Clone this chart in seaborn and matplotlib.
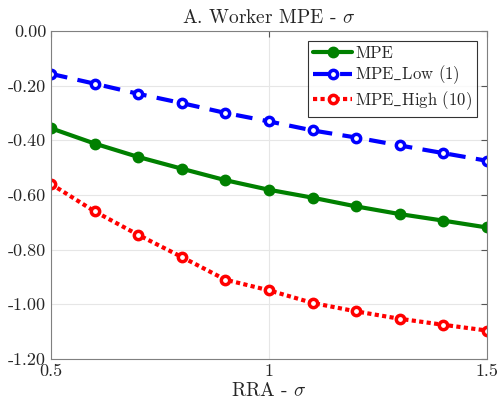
import numpy as np
import pandas as pd
import matplotlib
matplotlib.use("Agg")
import matplotlib.pyplot as plt
import seaborn as sns

rra = [0.5, 0.6, 0.7, 0.8, 0.9, 1.0, 1.1, 1.2, 1.3, 1.4, 1.5]
mpe = [-0.356, -0.412, -0.461, -0.504, -0.546, -0.581, -0.610, -0.642, -0.670, -0.694, -0.719]
mpe_low = [-0.157, -0.193, -0.230, -0.264, -0.300, -0.331, -0.364, -0.390, -0.419, -0.447, -0.475]
mpe_high = [-0.560, -0.660, -0.746, -0.827, -0.910, -0.949, -0.995, -1.026, -1.053, -1.075, -1.096]
labels = ["MPE", r"MPE$\_$Low (1)", r"MPE$\_$High (10)"]
yticks = [0.0, -0.2, -0.4, -0.6, -0.8, -1.0, -1.2]
xticks = [0.5, 1.0, 1.5]
xticklabels = ["0.5", "1", "1.5"]

sns.set_style("white")
plt.rcParams["font.family"] = "serif"
plt.rcParams["font.serif"] = ["cmr10"]
plt.rcParams["mathtext.fontset"] = "cm"
plt.rcParams["axes.unicode_minus"] = False
plt.rcParams["axes.formatter.use_mathtext"] = True

df = pd.DataFrame({
    "x": rra * 3,
    "y": mpe + mpe_low + mpe_high,
    "series": [labels[0]] * len(rra) + [labels[1]] * len(rra) + [labels[2]] * len(rra),
})

fig = plt.figure(figsize=(5.0, 4.07), dpi=100)
ax = fig.add_axes([0.102, 0.118, 0.872, 0.806])

styles = {
    labels[0]: dict(color="#008000", ls="-", mfc="#008000"),
    labels[1]: dict(color="#0000ff", ls=(0, (4, 2.5)), mfc="white"),
    labels[2]: dict(color="#ff0000", ls=(0, (1, 0.8)), mfc="white"),
}
for lab in labels:
    st = styles[lab]
    sns.lineplot(data=df[df["series"] == lab], x="x", y="y", ax=ax, label=lab,
                 color=st["color"], linestyle=st["ls"], linewidth=3,
                 marker="o", markersize=6, markerfacecolor=st["mfc"],
                 markeredgecolor=st["color"], markeredgewidth=2.5)

ax.set_xlim(0.5, 1.5)
ax.set_ylim(-1.2, 0.0)
ax.set_xticks(xticks)
ax.set_xticklabels(xticklabels)
ax.set_yticks(yticks)
ax.set_yticklabels([f"{v:.2f}" for v in yticks])
ax.tick_params(direction="in", length=4, color="#555555", labelsize=13,
               top=True, right=True, labelcolor="#262626")
ax.grid(True, color="#e6e6e6", linewidth=0.8)
for s in ax.spines.values():
    s.set_color("#808080")
    s.set_linewidth(0.8)
ax.set_title(r"A. Worker MPE - $\sigma$", fontsize=14, pad=6)
ax.set_xlabel(r"RRA - $\sigma$", fontsize=14, labelpad=2)
ax.set_ylabel("")
leg = ax.legend(loc="upper right", fontsize=12, frameon=True, fancybox=False,
                edgecolor="black", handlelength=2.3, borderpad=0.3,
                labelspacing=0.15, handletextpad=0.2, borderaxespad=0.6)
leg.get_frame().set_linewidth(0.8)

fig.savefig("out.png", dpi=100)
